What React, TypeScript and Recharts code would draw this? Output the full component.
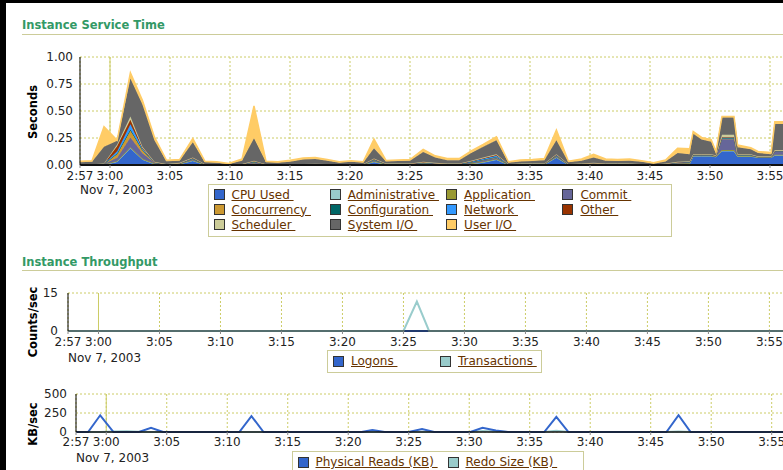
import React from "react";
import { AreaChart, Area, LineChart, Line, XAxis, YAxis, CartesianGrid } from "recharts";

// sample times, minutes after 2:00
const times = [
  177.5, 178.5, 179.5, 180.6, 181.7, 182.7, 183.7, 184.7, 185.8, 186.9,
  187.9, 188.9, 189.9, 191.0, 192.0, 193.0, 194.0, 195.0, 196.1, 197.1,
  198.1, 199.1, 200.1, 201.1, 202.0, 203.0, 204.0, 205.0, 206.1, 207.1,
  208.1, 209.1, 210.1, 211.1, 212.2, 213.2, 214.2, 215.2, 216.2, 217.2,
  218.2, 219.3, 220.3, 221.3, 222.3, 223.3, 224.3, 225.3, 226.3, 227.3,
  228.3, 228.6, 229.3, 230.1, 230.5, 231.0, 232.0, 232.3, 233.4, 234.0,
  235.1, 235.4, 236.5, 237.5,
];

const tickValues = [177.5, 180, 185, 190, 195, 200, 205, 210, 215, 220, 225, 230, 235];
const tickLabels = ["2:57", "3:00", "3:05", "3:10", "3:15", "3:20", "3:25", "3:30", "3:35", "3:40", "3:45", "3:50", "3:55"];
const dateLabel = "Nov 7, 2003";

// Instance Service Time (seconds), stacked bottom to top
const cpuUsed = [
  0.002, 0.002, 0.003, 0.03, 0.155, 0.05, 0.01, 0.003, 0.01, 0.04,
  0.003, 0.002, 0.001, 0.004, 0.01, 0.002, 0.002, 0.002, 0.003, 0.004,
  0.003, 0.002, 0.003, 0.003, 0.03, 0.004, 0.004, 0.005, 0.008, 0.005,
  0.004, 0.004, 0.01, 0.025, 0.05, 0.003, 0.004, 0.004, 0.005, 0.07,
  0.003, 0.005, 0.006, 0.005, 0.004, 0.005, 0.003, 0.002, 0.004, 0.01,
  0.012, 0.083, 0.083, 0.083, 0.075, 0.13, 0.13, 0.08, 0.08, 0.07,
  0.07, 0.09, 0.09, 0.09,
];
const administrative = [
  0, 0, 0, 0.002, 0.003, 0.002, 0, 0, 0, 0,
  0, 0, 0, 0, 0, 0, 0, 0, 0, 0,
  0, 0, 0, 0, 0, 0, 0, 0, 0, 0,
  0, 0, 0, 0, 0, 0, 0, 0, 0, 0,
  0, 0, 0, 0, 0, 0, 0, 0, 0, 0,
  0, 0, 0, 0, 0, 0, 0, 0, 0, 0,
  0, 0, 0, 0,
];
const application = [
  0.001, 0.001, 0.002, 0.005, 0.007, 0.006, 0.003, 0.001, 0.002, 0.005,
  0.001, 0.001, 0.001, 0.001, 0.005, 0.001, 0.001, 0.001, 0.001, 0.001,
  0.001, 0.001, 0.001, 0.001, 0.005, 0.002, 0.002, 0.002, 0.003, 0.002,
  0.002, 0.002, 0.004, 0.006, 0.006, 0.001, 0.002, 0.002, 0.002, 0.005,
  0.001, 0.002, 0.002, 0.002, 0.002, 0.002, 0.001, 0.001, 0.002, 0.003,
  0.004, 0.003, 0.003, 0.003, 0.003, 0.008, 0.008, 0.003, 0.003, 0.002,
  0.002, 0.005, 0.005, 0.005,
];
const commit = [
  0.002, 0.002, 0.004, 0.03, 0.09, 0.05, 0.007, 0.002, 0.003, 0.01,
  0.002, 0.002, 0.001, 0.002, 0.01, 0.002, 0.001, 0.002, 0.002, 0.003,
  0.002, 0.002, 0.002, 0.002, 0.01, 0.003, 0.003, 0.003, 0.007, 0.005,
  0.003, 0.003, 0.009, 0.012, 0.012, 0.002, 0.003, 0.003, 0.003, 0.01,
  0.002, 0.003, 0.005, 0.003, 0.003, 0.003, 0.002, 0.001, 0.003, 0.007,
  0.007, 0.006, 0.006, 0.006, 0.005, 0.1, 0.1, 0.008, 0.008, 0.004,
  0.004, 0.03, 0.03, 0.025,
];
const concurrency = [
  0.001, 0.001, 0.001, 0.035, 0.065, 0.03, 0.003, 0.001, 0.001, 0.004,
  0.001, 0.001, 0, 0.001, 0.004, 0.001, 0.001, 0.001, 0.001, 0.001,
  0.001, 0.001, 0.001, 0.001, 0.004, 0.001, 0.001, 0.001, 0.003, 0.002,
  0.001, 0.001, 0.004, 0.006, 0.007, 0.001, 0.001, 0.001, 0.001, 0.003,
  0.001, 0.001, 0.002, 0.001, 0.001, 0.001, 0.001, 0, 0.001, 0.003,
  0.003, 0.002, 0.002, 0.002, 0.002, 0.01, 0.01, 0.002, 0.002, 0.001,
  0.001, 0.003, 0.003, 0.002,
];
const configuration = [
  0, 0, 0, 0.005, 0.008, 0.004, 0, 0, 0, 0,
  0, 0, 0, 0, 0, 0, 0, 0, 0, 0,
  0, 0, 0, 0, 0, 0, 0, 0, 0, 0,
  0, 0, 0, 0, 0, 0, 0, 0, 0, 0,
  0, 0, 0, 0, 0, 0, 0, 0, 0, 0,
  0, 0, 0, 0, 0, 0, 0, 0, 0, 0,
  0, 0, 0, 0,
];
const network = [
  0, 0, 0.001, 0.02, 0.05, 0.01, 0.002, 0.001, 0.001, 0.004,
  0.001, 0, 0, 0, 0.004, 0, 0, 0, 0.001, 0.001,
  0.001, 0, 0.001, 0.001, 0.004, 0.001, 0.001, 0.001, 0.003, 0.002,
  0.001, 0.001, 0.005, 0.008, 0.01, 0.001, 0.001, 0.001, 0.001, 0.004,
  0.001, 0.001, 0.002, 0.001, 0.001, 0.001, 0.001, 0, 0.001, 0.002,
  0.003, 0.002, 0.002, 0.002, 0.001, 0.006, 0.006, 0.002, 0.002, 0.001,
  0.001, 0.002, 0.002, 0.002,
];
const other = [
  0, 0, 0.001, 0.05, 0.042, 0.008, 0.001, 0, 0, 0.002,
  0, 0, 0, 0, 0.002, 0, 0, 0, 0, 0,
  0, 0, 0, 0, 0.002, 0, 0, 0, 0.001, 0.001,
  0.001, 0.001, 0.003, 0.006, 0.008, 0, 0, 0, 0, 0.002,
  0, 0, 0, 0, 0, 0, 0, 0, 0, 0.001,
  0.001, 0, 0, 0, 0, 0.004, 0.004, 0.001, 0.001, 0,
  0, 0.001, 0.001, 0.001,
];
const scheduler = [
  0.002, 0.002, 0.003, 0.013, 0.03, 0.01, 0.004, 0.002, 0.003, 0.005,
  0.002, 0.002, 0.001, 0.002, 0.005, 0.002, 0.001, 0.002, 0.002, 0.002,
  0.002, 0.002, 0.002, 0.002, 0.005, 0.003, 0.003, 0.003, 0.005, 0.003,
  0.003, 0.003, 0.005, 0.007, 0.007, 0.002, 0.003, 0.003, 0.003, 0.006,
  0.002, 0.003, 0.003, 0.003, 0.003, 0.003, 0.002, 0.001, 0.003, 0.004,
  0.005, 0.004, 0.004, 0.004, 0.004, 0.022, 0.022, 0.004, 0.004, 0.002,
  0.002, 0.009, 0.009, 0.005,
];
const systemIO = [
  0.017, 0.022, 0.155, 0.035, 0.35, 0.39, 0.2, 0.025, 0.02, 0.14,
  0.015, 0.012, 0.006, 0.03, 0.207, 0.017, 0.014, 0.022, 0.04, 0.043,
  0.03, 0.012, 0.02, 0.01, 0.095, 0.018, 0.023, 0.025, 0.09, 0.05,
  0.03, 0.03, 0.07, 0.1, 0.13, 0.01, 0.018, 0.023, 0.03, 0.13,
  0.015, 0.025, 0.05, 0.025, 0.023, 0.025, 0.02, 0.007, 0.018, 0.08,
  0.065, 0.19, 0.135, 0.115, 0.015, 0.16, 0.16, 0.065, 0.045, 0.03,
  0.02, 0.24, 0.24, 0.23,
];
const userIO = [
  0.01, 0.01, 0.185, 0.005, 0.055, 0.04, 0.03, 0.01, 0.01, 0.035,
  0.01, 0.01, 0.005, 0.015, 0.299, 0.01, 0.01, 0.015, 0.015, 0.015,
  0.01, 0.01, 0.01, 0.01, 0.085, 0.01, 0.01, 0.01, 0.025, 0.015,
  0.015, 0.015, 0.02, 0.02, 0.03, 0.01, 0.015, 0.015, 0.015, 0.094,
  0.01, 0.015, 0.03, 0.015, 0.015, 0.015, 0.01, 0.008, 0.015, 0.045,
  0.05, 0.02, 0.02, 0.02, 0.02, 0.01, 0.01, 0.02, 0.015, 0.015,
  0.015, 0.02, 0.02, 0.02,
];

// Instance Throughput (counts/sec)
const logons = [
  0, 0, 0, 0, 0, 0, 0, 0, 0, 0,
  0, 0, 0, 0, 0, 0, 0, 0, 0, 0,
  0, 0, 0, 0, 0, 0, 0, 0, 0, 0,
  0, 0, 0, 0, 0, 0, 0, 0, 0, 0,
  0, 0, 0, 0, 0, 0, 0, 0, 0, 0,
  0, 0, 0, 0, 0, 0, 0, 0, 0, 0,
  0, 0, 0, 0,
];
const transactions = [
  0, 0, 0, 0, 0, 0, 0, 0, 0, 0,
  0, 0, 0, 0, 0, 0, 0, 0, 0, 0,
  0, 0, 0, 0, 0, 0, 0, 0, 11.6, 0,
  0, 0, 0, 0, 0, 0, 0, 0, 0, 0,
  0, 0, 0, 0, 0, 0, 0, 0, 0, 0,
  0, 0, 0, 0, 0, 0, 0, 0, 0, 0,
  0, 0, 0, 0,
];

// KB/sec
const physicalReads = [
  0, 0, 220, 0, 0, 0, 55, 0, 0, 0,
  0, 0, 0, 0, 210, 0, 0, 0, 0, 0,
  0, 0, 0, 0, 25, 0, 0, 0, 38, 0,
  0, 0, 0, 55, 20, 0, 0, 0, 0, 200,
  0, 0, 0, 0, 0, 0, 0, 0, 0, 220,
  0, 0, 0, 0, 0, 0, 0, 0, 0, 0,
  0, 0, 0, 0,
];
const redoSize = [
  0, 0, 0, 6, 10, 4, 0, 0, 0, 0,
  0, 0, 0, 0, 0, 0, 0, 0, 0, 0,
  0, 0, 0, 0, 0, 0, 0, 0, 4, 0,
  0, 0, 0, 12, 8, 0, 0, 0, 0, 15,
  0, 0, 0, 0, 0, 0, 0, 0, 0, 5,
  0, 0, 0, 0, 0, 0, 0, 0, 0, 0,
  0, 0, 0, 0,
];

const serviceSeries = [
  { key: "cpu", name: "CPU Used", color: "#3366cc", values: cpuUsed },
  { key: "admin", name: "Administrative", color: "#99cccc", values: administrative },
  { key: "app", name: "Application", color: "#999933", values: application },
  { key: "commit", name: "Commit", color: "#666699", values: commit },
  { key: "conc", name: "Concurrency", color: "#cc9933", values: concurrency },
  { key: "config", name: "Configuration", color: "#006666", values: configuration },
  { key: "net", name: "Network", color: "#3399ff", values: network },
  { key: "other", name: "Other", color: "#993300", values: other },
  { key: "sched", name: "Scheduler", color: "#cccc99", values: scheduler },
  { key: "sysio", name: "System I/O", color: "#666666", values: systemIO },
  { key: "userio", name: "User I/O", color: "#ffcc66", values: userIO },
];

const throughputSeries = [
  { key: "logons", name: "Logons", color: "#3366cc", values: logons },
  { key: "tx", name: "Transactions", color: "#99cccc", values: transactions },
];

const ioSeries = [
  { key: "reads", name: "Physical Reads (KB)", color: "#3366cc", values: physicalReads },
  { key: "redo", name: "Redo Size (KB)", color: "#99cccc", values: redoSize },
];

type Series = { key: string; name: string; color: string; values: number[] };

function toRows(series: Series[]) {
  return times.map((t, i) => {
    const row: Record<string, number> = { t };
    series.forEach((s) => (row[s.key] = s.values[i]));
    return row;
  });
}

const font = "'DejaVu Sans', Verdana, sans-serif";
const gridColor = "#cccc66";

function timeTick(dateDy: number) {
  return (props: any) => {
    const { x, y, payload } = props;
    const i = tickValues.indexOf(payload.value);
    return (
      <g>
        <text x={x} y={y} dy="0.71em" textAnchor="middle" fontFamily={font} fontSize={12} fill="#222">
          {tickLabels[i]}
        </text>
        {i === 0 && (
          <text x={x} y={y + dateDy} textAnchor="start" fontFamily={font} fontSize={12} fill="#222">
            {dateLabel}
          </text>
        )}
      </g>
    );
  };
}

// solid vertical line at 3:00
const solidLine = (props: any) => {
  const s = props && props.xAxis && props.xAxis.scale;
  if (typeof s === "function") return [s(180)];
  if (s && typeof s.map === "function") return [s.map(180)];
  return [];
};

function Title({ text, top, lineTop }: { text: string; top: number; lineTop: number }) {
  return (
    <>
      <div
        style={{
          position: "absolute", left: 22, top, fontFamily: font, fontWeight: "bold",
          fontSize: 11.5, lineHeight: "12px", color: "#339966", whiteSpace: "nowrap",
        }}
      >
        {text}
      </div>
      <div style={{ position: "absolute", left: 22, top: lineTop, width: 761, height: 1, background: "#cccc99" }} />
    </>
  );
}

function AxisLabel({ text, cx, cy }: { text: string; cx: number; cy: number }) {
  return (
    <div
      style={{
        position: "absolute", left: cx, top: cy, transform: "translate(-50%, -50%) rotate(-90deg)",
        fontFamily: font, fontWeight: "bold", fontSize: 11.5, lineHeight: "12px", color: "#000", whiteSpace: "nowrap",
      }}
    >
      {text}
    </div>
  );
}

function LegendBox(props: {
  items: Series[]; left: number; top: number; width: number; height: number;
  columns: number; colWidth: number; padX: number; rowTop: number;
}) {
  const { items, left, top, width, height, columns, colWidth, padX, rowTop } = props;
  return (
    <div
      style={{
        position: "absolute", left, top, width, height, boxSizing: "border-box",
        border: "1px solid #cccc99", background: "#fff",
      }}
    >
      {items.map((s, i) => (
        <div
          key={s.key}
          style={{
            position: "absolute", left: padX + (i % columns) * colWidth, top: rowTop + Math.floor(i / columns) * 15.2,
            height: 12, display: "flex", alignItems: "center", whiteSpace: "nowrap",
          }}
        >
          <div style={{ width: 11, height: 11, boxSizing: "border-box", border: "1px solid #333", background: s.color }} />
          <span
            style={{
              marginLeft: 7, fontFamily: font, fontSize: 12, lineHeight: "12px",
              color: "#663300", textDecoration: "underline",
            }}
          >
            {s.name + "\u00a0"}
          </span>
        </div>
      ))}
    </div>
  );
}

const tickStyle = { fontFamily: font, fontSize: 12, fill: "#222" };

export default function App() {
  const serviceRows = toRows(serviceSeries);
  const throughputRows = toRows(throughputSeries);
  const ioRows = toRows(ioSeries);

  return (
    <div style={{ position: "fixed", left: 0, top: 0, width: 783, height: 470, overflow: "hidden", background: "#fff" }}>
      <div style={{ position: "absolute", left: 0, top: 0, width: 783, height: 3, background: "#000" }} />
      <div style={{ position: "absolute", left: 0, top: 0, width: 6, height: 470, background: "#000" }} />

      <Title text="Instance Service Time" top={19} lineTop={34} />
      <div style={{ position: "absolute", left: 0, top: 0 }}>
        <AreaChart width={820} height={200} data={serviceRows} margin={{ top: 57, right: 14, bottom: 5, left: 0 }}>
          <CartesianGrid stroke={gridColor} strokeDasharray="2 2" />
          <CartesianGrid stroke={gridColor} horizontal={false} verticalCoordinatesGenerator={solidLine} />
          {serviceSeries.map((s) => (
            <Area
              key={s.key}
              type="linear"
              dataKey={s.key}
              stackId="svc"
              stroke={s.color}
              strokeWidth={s.key === "userio" ? 1.5 : 1}
              fill={s.color}
              fillOpacity={1}
              dot={false}
              activeDot={false}
              isAnimationActive={false}
            />
          ))}
          <XAxis
            dataKey="t"
            type="number"
            domain={[177.5, 238]}
            ticks={tickValues}
            interval={0}
            height={30}
            tickSize={3}
            tickMargin={3}
            axisLine={{ stroke: "#111", strokeWidth: 2 }}
            tickLine={{ stroke: "#888" }}
            tick={timeTick(23)}
          />
          <YAxis
            type="number"
            domain={[0, 1]}
            ticks={[0, 0.25, 0.5, 0.75, 1]}
            interval={0}
            width={80}
            tickSize={0}
            tickMargin={7}
            tickLine={false}
            axisLine={{ stroke: "#000" }}
            tick={tickStyle}
            tickFormatter={(v: number) => v.toFixed(2)}
          />
        </AreaChart>
      </div>
      <AxisLabel text="Seconds" cx={33} cy={112} />
      <LegendBox items={serviceSeries} left={208} top={184} width={464} height={53} columns={4} colWidth={116.3} padX={4.5} rowTop={3.5} />

      <Title text="Instance Throughput" top={255.7} lineTop={270} />
      <div style={{ position: "absolute", left: 0, top: 280 }}>
        <LineChart width={820} height={100} data={throughputRows} margin={{ top: 13, right: 14, bottom: 9, left: 0 }}>
          <CartesianGrid stroke={gridColor} strokeDasharray="2 2" />
          <CartesianGrid stroke={gridColor} horizontal={false} verticalCoordinatesGenerator={solidLine} />
          <XAxis
            dataKey="t"
            type="number"
            domain={[177.5, 238]}
            ticks={tickValues}
            interval={0}
            height={40}
            tickSize={3}
            tickMargin={3}
            axisLine={{ stroke: "#111", strokeWidth: 1 }}
            tickLine={{ stroke: "#888" }}
            tick={timeTick(24.5)}
          />
          <YAxis
            type="number"
            domain={[0, 15]}
            ticks={[0, 15]}
            interval={0}
            width={68}
            tickSize={0}
            tickMargin={10}
            tickLine={false}
            axisLine={{ stroke: "#000" }}
            tick={tickStyle}
          />
          {throughputSeries.map((s) => (
            <Line
              key={s.key}
              type="linear"
              dataKey={s.key}
              stroke={s.color}
              strokeWidth={2}
              dot={false}
              activeDot={false}
              isAnimationActive={false}
            />
          ))}
        </LineChart>
      </div>
      <AxisLabel text="Counts/sec" cx={33} cy={322} />
      <LegendBox items={throughputSeries} left={327} top={350} width={215} height={23} columns={2} colWidth={107} padX={5} rowTop={4} />

      <div style={{ position: "absolute", left: 0, top: 380 }}>
        <LineChart width={820} height={90} data={ioRows} margin={{ top: 14, right: 12, bottom: 8, left: 0 }}>
          <CartesianGrid stroke={gridColor} strokeDasharray="2 2" />
          <CartesianGrid stroke={gridColor} horizontal={false} verticalCoordinatesGenerator={solidLine} />
          <XAxis
            dataKey="t"
            type="number"
            domain={[177.5, 238]}
            ticks={tickValues}
            interval={0}
            height={30}
            tickSize={3}
            tickMargin={2}
            axisLine={{ stroke: "#111", strokeWidth: 1.5 }}
            tickLine={{ stroke: "#888" }}
            tick={timeTick(25)}
          />
          <YAxis
            type="number"
            domain={[0, 500]}
            ticks={[0, 250, 500]}
            interval={0}
            width={76}
            tickSize={0}
            tickMargin={9}
            tickLine={false}
            axisLine={{ stroke: "#000" }}
            tick={tickStyle}
          />
          {[ioSeries[1], ioSeries[0]].map((s) => (
            <Line
              key={s.key}
              type="linear"
              dataKey={s.key}
              stroke={s.color}
              strokeWidth={2}
              dot={false}
              activeDot={false}
              isAnimationActive={false}
            />
          ))}
        </LineChart>
      </div>
      <AxisLabel text="KB/sec" cx={33} cy={423.5} />
      <LegendBox items={ioSeries} left={292} top={451} width={292} height={23} columns={2} colWidth={150} padX={4.5} rowTop={4} />
    </div>
  );
}
